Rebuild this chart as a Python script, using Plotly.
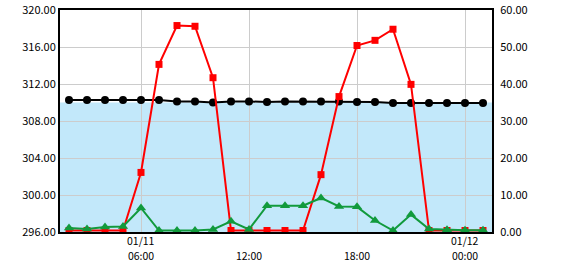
import plotly.graph_objects as go

times = ["2024-01-11 02:00", "2024-01-11 03:00", "2024-01-11 04:00", "2024-01-11 05:00",
         "2024-01-11 06:00", "2024-01-11 07:00", "2024-01-11 08:00", "2024-01-11 09:00",
         "2024-01-11 10:00", "2024-01-11 11:00", "2024-01-11 12:00", "2024-01-11 13:00",
         "2024-01-11 14:00", "2024-01-11 15:00", "2024-01-11 16:00", "2024-01-11 17:00",
         "2024-01-11 18:00", "2024-01-11 19:00", "2024-01-11 20:00", "2024-01-11 21:00",
         "2024-01-11 22:00", "2024-01-11 23:00", "2024-01-12 00:00", "2024-01-12 01:00"]

water_level = [310.27, 310.27, 310.27, 310.27, 310.27, 310.27, 310.12, 310.12,
               310.01, 310.12, 310.12, 310.05, 310.12, 310.12, 310.12, 310.12,
               310.05, 310.05, 309.95, 309.95, 309.95, 309.95, 309.95, 309.95]

outflow = [0.4, 0.4, 0.4, 0.4, 16.1, 45.3, 55.8, 55.6,
           41.7, 0.4, 0.4, 0.4, 0.4, 0.4, 15.5, 36.6,
           50.4, 51.8, 54.8, 39.9, 0.4, 0.4, 0.4, 0.4]

inflow = [1.1, 0.8, 1.35, 1.5, 6.5, 0.4, 0.4, 0.4,
          0.7, 2.9, 0.7, 7.1, 7.1, 7.1, 9.2, 6.9,
          6.8, 3.1, 0.4, 4.7, 0.8, 0.6, 0.5, 0.5]

normal_level = 310.0

x_range = ["2024-01-11 01:30", "2024-01-12 01:30"]
x_tickvals = ["2024-01-11 06:00", "2024-01-11 12:00", "2024-01-11 18:00", "2024-01-12 00:00"]
x_ticktext = ["06:00", "12:00", "18:00", "00:00"]
date_labels = [("2024-01-11 06:00", "01/11"), ("2024-01-12 00:00", "01/12")]

left_ticks = [296, 300, 304, 308, 312, 316, 320]
right_ticks = [0, 10, 20, 30, 40, 50, 60]

FONT = "Noto Sans CJK JP"

fig = go.Figure()

fig.add_trace(go.Scatter(
    x=times, y=outflow, yaxis="y2", mode="lines+markers",
    line=dict(color="#ff0000", width=2),
    marker=dict(symbol="square", size=7, color="#ff0000"),
    showlegend=False))

fig.add_trace(go.Scatter(
    x=times, y=inflow, yaxis="y2", mode="lines+markers",
    line=dict(color="#119a3c", width=2),
    marker=dict(symbol="triangle-up", size=9, color="#119a3c"),
    showlegend=False))

fig.add_trace(go.Scatter(
    x=times, y=water_level, yaxis="y", mode="lines+markers",
    line=dict(color="#000000", width=2),
    marker=dict(symbol="circle", size=8, color="#000000"),
    showlegend=False))

fig.add_shape(type="rect", xref="paper", yref="y", x0=0, x1=1,
              y0=left_ticks[0], y1=normal_level,
              fillcolor="#c2e8fa", line=dict(width=0), layer="below")

for xv, txt in date_labels:
    fig.add_annotation(x=xv, xref="x", y=-0.038, yref="paper", text=txt,
                       showarrow=False, xanchor="center", yanchor="middle",
                       font=dict(family=FONT, size=10.5, color="#000000"))

fig.update_layout(
    width=570, height=270,
    margin=dict(l=60, r=78, t=10, b=38),
    paper_bgcolor="white", plot_bgcolor="white",
    font=dict(family=FONT, size=11, color="#000000"),
    xaxis=dict(
        range=x_range, tickvals=x_tickvals, ticktext=x_ticktext,
        tickfont=dict(family=FONT, size=10.5),
        showgrid=True, gridcolor="#cccccc", gridwidth=1,
        showline=True, linecolor="#000000", linewidth=2, mirror=True,
        ticks="outside", ticklen=13, tickcolor="rgba(0,0,0,0)",
        automargin=False, zeroline=False),
    yaxis=dict(
        range=[left_ticks[0], left_ticks[-1]], tickvals=left_ticks,
        ticktext=[f"{v:.2f}" for v in left_ticks],
        showgrid=True, gridcolor="#cccccc", gridwidth=1,
        showline=True, linecolor="#000000", linewidth=2,
        ticks="", automargin=False, zeroline=False, layer="below traces"),
    yaxis2=dict(
        range=[right_ticks[0], right_ticks[-1]], tickvals=right_ticks,
        ticktext=[f"{v:.2f}" for v in right_ticks],
        overlaying="y", side="right", showgrid=False,
        showline=True, linecolor="#000000", linewidth=2,
        ticks="outside", ticklen=4, tickcolor="rgba(0,0,0,0)",
        automargin=False, zeroline=False),
)

fig.write_html("out.html")
